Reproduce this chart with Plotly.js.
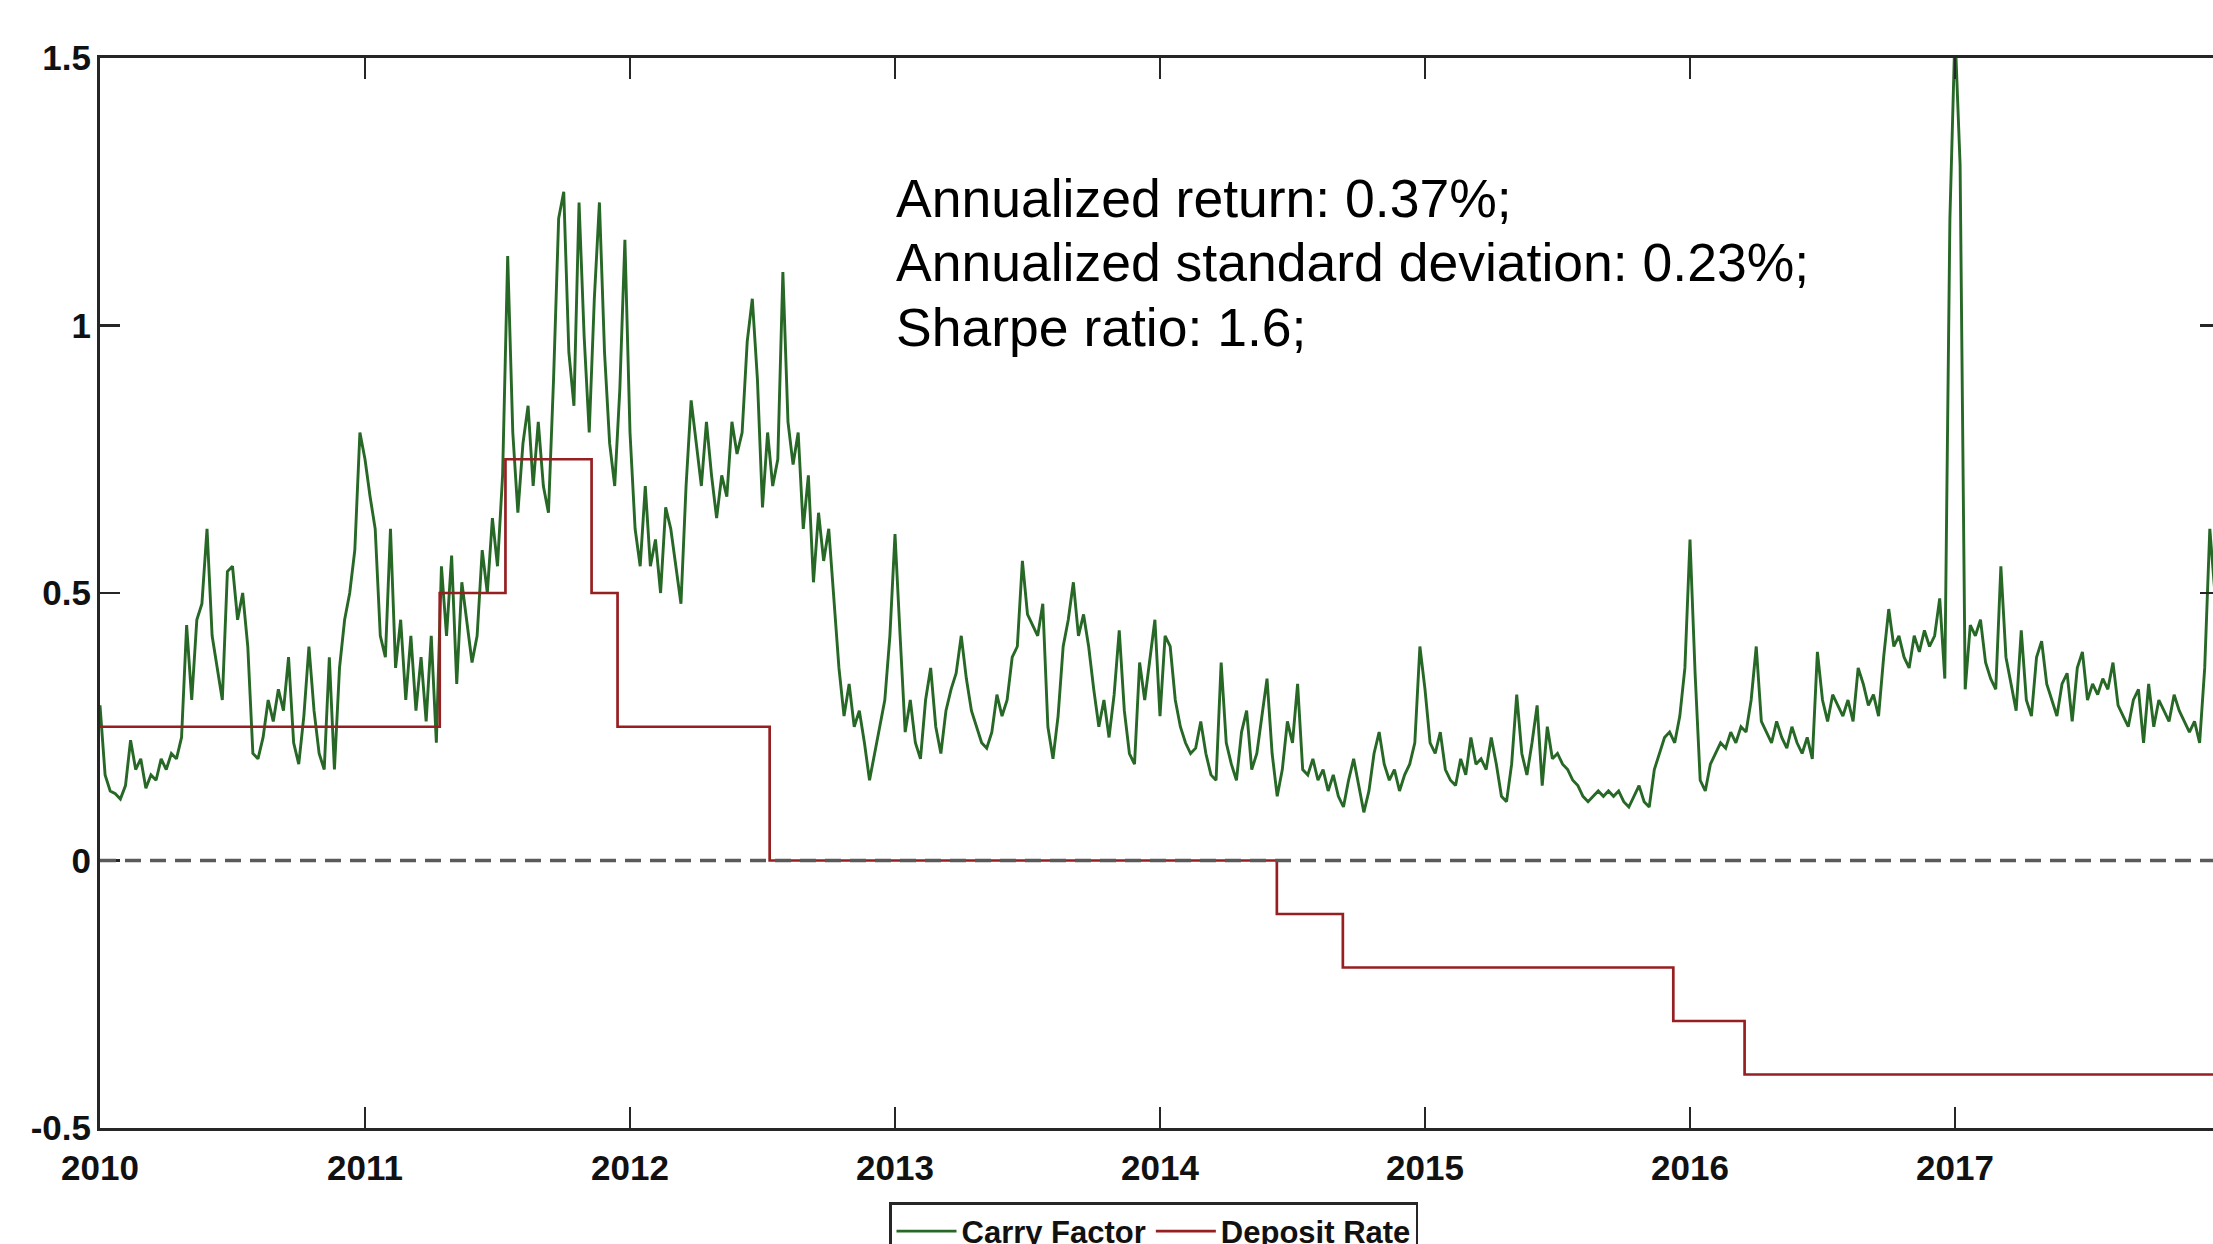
<!DOCTYPE html>
<html>
<head>
<meta charset="utf-8">
<script src="https://cdn.plot.ly/plotly-3.0.1.min.js"></script>
<style>
  html, body { margin: 0; padding: 0; overflow: hidden; background: #ffffff; width: 2213px; height: 1244px; }
  #chart { width: 2260px; height: 1300px; }
</style>
</head>
<body>
<div id="chart"></div>
<script>
// ---- Data (weekly samples, x in decimal years) ----
const carryYears = [2010, 2011, 2012, 2013, 2014, 2015, 2016, 2017];
const carry2010 = [0.29,0.16,0.13,0.125,0.115,0.14,0.225,0.17,0.19,0.135,0.16,0.15,0.19,0.17,0.20,0.19,0.23,0.44,0.30,0.45,0.48,0.62,0.42,0.36,0.30,0.54,0.55,0.45,0.50,0.40,0.20,0.19,0.23,0.30,0.26,0.32,0.28,0.38,0.22,0.18,0.27,0.40,0.28,0.20,0.17,0.38,0.17,0.36,0.45,0.50,0.58,0.80];
const carry2011 = [0.75,0.68,0.62,0.42,0.38,0.62,0.36,0.45,0.30,0.42,0.28,0.38,0.26,0.42,0.22,0.55,0.42,0.57,0.33,0.52,0.45,0.37,0.42,0.58,0.50,0.64,0.55,0.72,1.13,0.80,0.65,0.78,0.85,0.70,0.82,0.70,0.65,0.90,1.20,1.25,0.95,0.85,1.23,0.98,0.80,1.05,1.23,0.95,0.78,0.70,0.88,1.16];
const carry2012 = [0.80,0.62,0.55,0.70,0.55,0.60,0.50,0.66,0.62,0.55,0.48,0.70,0.86,0.78,0.70,0.82,0.72,0.64,0.72,0.68,0.82,0.76,0.80,0.97,1.05,0.90,0.66,0.80,0.70,0.75,1.10,0.82,0.74,0.80,0.62,0.72,0.52,0.65,0.56,0.62,0.48,0.36,0.27,0.33,0.25,0.28,0.22,0.15,0.20,0.25,0.30,0.42];
const carry2013 = [0.61,0.42,0.24,0.30,0.22,0.19,0.30,0.36,0.25,0.20,0.28,0.32,0.35,0.42,0.34,0.28,0.25,0.22,0.21,0.24,0.31,0.27,0.30,0.38,0.40,0.56,0.46,0.44,0.42,0.48,0.25,0.19,0.27,0.40,0.45,0.52,0.42,0.46,0.40,0.32,0.25,0.30,0.23,0.31,0.43,0.28,0.20,0.18,0.37,0.30,0.38,0.45];
const carry2014 = [0.27,0.42,0.40,0.30,0.25,0.22,0.20,0.21,0.26,0.20,0.16,0.15,0.37,0.22,0.18,0.15,0.24,0.28,0.17,0.20,0.27,0.34,0.20,0.12,0.17,0.26,0.22,0.33,0.17,0.16,0.19,0.15,0.17,0.13,0.16,0.12,0.10,0.15,0.19,0.14,0.09,0.13,0.20,0.24,0.18,0.15,0.17,0.13,0.16,0.18,0.22,0.40];
const carry2015 = [0.32,0.22,0.20,0.24,0.17,0.15,0.14,0.19,0.16,0.23,0.18,0.19,0.17,0.23,0.18,0.12,0.11,0.18,0.31,0.20,0.16,0.22,0.29,0.14,0.25,0.19,0.20,0.18,0.17,0.15,0.14,0.12,0.11,0.12,0.13,0.12,0.13,0.12,0.13,0.11,0.10,0.12,0.14,0.11,0.10,0.17,0.20,0.23,0.24,0.22,0.27,0.36];
const carry2016 = [0.60,0.35,0.15,0.13,0.18,0.20,0.22,0.21,0.24,0.22,0.25,0.24,0.30,0.40,0.26,0.24,0.22,0.26,0.23,0.21,0.25,0.22,0.20,0.23,0.19,0.39,0.30,0.26,0.31,0.29,0.27,0.30,0.26,0.36,0.33,0.29,0.31,0.27,0.38,0.47,0.40,0.42,0.38,0.36,0.42,0.39,0.43,0.40,0.42,0.49,0.34,1.20];
const carry2017 = [1.55,1.30,0.32,0.44,0.42,0.45,0.37,0.34,0.32,0.55,0.38,0.33,0.28,0.43,0.30,0.27,0.38,0.41,0.33,0.30,0.27,0.33,0.35,0.26,0.36,0.39,0.30,0.33,0.31,0.34,0.32,0.37,0.29,0.27,0.25,0.30,0.32,0.22,0.33,0.25,0.30,0.28,0.26,0.31,0.28,0.26,0.24,0.26,0.22,0.36,0.62,0.50];

// Deposit rate: dates of each change (decimal years) and the new level
const rateDates  = [2010.0, 2011.282, 2011.530, 2011.855, 2011.953, 2012.527, 2014.441, 2014.690, 2015.937, 2016.206, 2018.0];
const rateValues = [0.25,   0.50,     0.75,     0.50,     0.25,     0.00,     -0.10,    -0.20,    -0.30,    -0.40,    -0.40];

// Axis ticks
const xTickVals = [2010, 2011, 2012, 2013, 2014, 2015, 2016, 2017];
const xTickText = ['2010', '2011', '2012', '2013', '2014', '2015', '2016', '2017'];
const yTickVals = [-0.5, 0, 0.5, 1, 1.5];
const yTickText = ['-0.5', '0', '0.5', '1', '1.5'];

const statLines = [
  'Annualized return: 0.37%;',
  'Annualized standard deviation: 0.23%;',
  'Sharpe ratio: 1.6;'
];
const seriesNames = ['Carry Factor', 'Deposit Rate'];

// ---- Build the series ----
const carryBlocks = [carry2010, carry2011, carry2012, carry2013, carry2014, carry2015, carry2016, carry2017];
const carryX = [], carryY = [];
carryBlocks.forEach((arr, k) => {
  arr.forEach((v, i) => { carryX.push(carryYears[k] + i / arr.length); carryY.push(v); });
});

const axisColor = '#262626';
const tickFont = { family: 'Liberation Sans, Arial, sans-serif', size: 35, color: '#111111', weight: 700 };

const traces = [
  {
    x: carryX, y: carryY, type: 'scatter', mode: 'lines', name: seriesNames[0],
    line: { color: '#276827', width: 2.9 }, hoverinfo: 'skip'
  },
  {
    x: rateDates, y: rateValues, type: 'scatter', mode: 'lines', name: seriesNames[1],
    line: { color: '#961f22', width: 2.7, shape: 'hv' }, hoverinfo: 'skip'
  }
];

const plotL = 100, plotT = 58, plotB = 1128, plotR = 2220, H = 1300, W = 2260;
const plotW = plotR - plotL, plotH = plotB - plotT;
const px2paperX = p => (p - plotL) / plotW;
const px2paperY = p => (plotB - p) / plotH;

const statY = [198, 262.5, 327];
const annotations = statLines.map((t, i) => ({
  text: t, xref: 'paper', yref: 'paper', x: px2paperX(894), y: px2paperY(statY[i]),
  xanchor: 'left', yanchor: 'middle', showarrow: false,
  font: { family: 'Liberation Sans, Arial, sans-serif', size: 53.5, color: '#000000' }
}));

const layout = {
  width: W, height: H,
  margin: { l: plotL, r: W - plotR, t: plotT, b: H - plotB, pad: 0 },
  paper_bgcolor: '#ffffff', plot_bgcolor: '#ffffff',
  showlegend: true,
  legend: {
    orientation: 'h', x: px2paperX(889), xanchor: 'left', y: px2paperY(1202), yanchor: 'top',
    bgcolor: '#ffffff', bordercolor: axisColor, borderwidth: 2.5,
    font: { family: 'Liberation Sans, Arial, sans-serif', size: 31, color: '#111111', weight: 700 },
    itemwidth: 60, tracegroupgap: 0
  },
  xaxis: {
    range: [2010, 2018], tickmode: 'array', tickvals: xTickVals, ticktext: xTickText,
    ticks: 'inside', ticklen: 21, tickwidth: 2.2, tickcolor: axisColor,
    showline: true, linecolor: axisColor, linewidth: 3, mirror: 'ticks',
    showgrid: false, zeroline: false, tickfont: tickFont, ticklabelstandoff: 7
  },
  yaxis: {
    range: [-0.5, 1.5], tickmode: 'array', tickvals: yTickVals, ticktext: yTickText,
    ticks: 'inside', ticklen: 20, tickwidth: 2.2, tickcolor: axisColor,
    showline: true, linecolor: axisColor, linewidth: 3, mirror: 'ticks',
    showgrid: false, zeroline: false, tickfont: tickFont, ticklabelstandoff: -1
  },
  shapes: [
    { type: 'line', xref: 'paper', yref: 'y', x0: 0, x1: 1, y0: 0, y1: 0, layer: 'above',
      line: { color: '#5a5a5a', width: 3.5, dash: '16px,9px' } }
  ],
  annotations: annotations
};

Plotly.newPlot('chart', traces, layout, { displayModeBar: false, staticPlot: true });
</script>
</body>
</html>
